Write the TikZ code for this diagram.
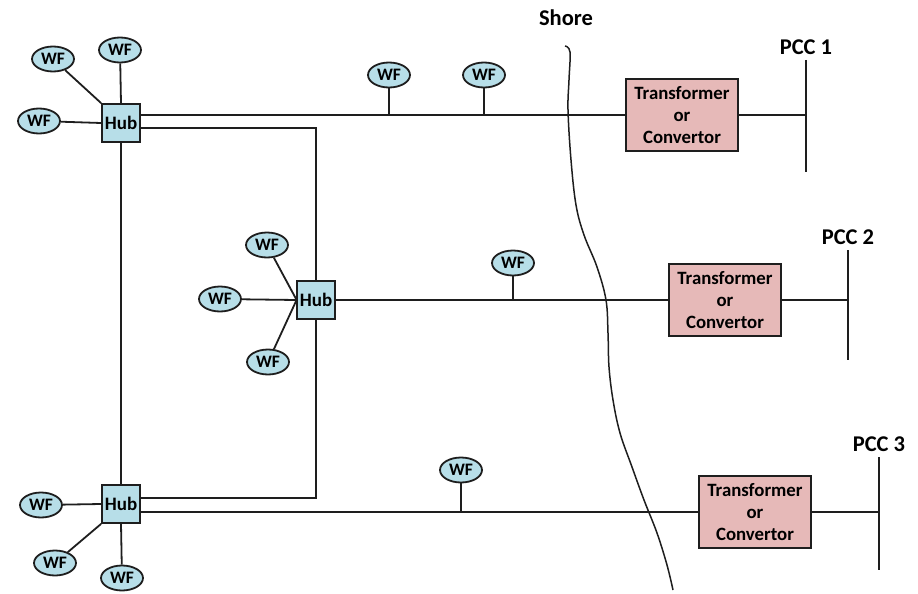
\documentclass[tikz,border=0pt]{standalone}
\usepackage{fontspec}
\setmainfont{Carlito}
\usetikzlibrary{shapes.geometric}
\definecolor{wfblue}{HTML}{B7DEE8}
\definecolor{trpink}{HTML}{E6B9B8}
\definecolor{lin}{HTML}{1E1E1E}
\begin{document}
\begin{tikzpicture}[x=1pt,y=-1pt, line width=1.8pt, draw=lin,
  wf/.style={ellipse, draw=lin, fill=wfblue, minimum width=42pt, minimum height=25pt, inner sep=0pt,
     font=\fontsize{17.5}{19}\selectfont\bfseries},
  hub/.style={rectangle, draw=lin, fill=wfblue, minimum width=38pt, minimum height=38pt, inner sep=0pt,
     font=\fontsize{19}{21}\selectfont\bfseries},
  trans/.style={rectangle, draw=lin, fill=trpink, minimum width=112pt, minimum height=72pt, inner sep=0pt,
     align=center, font=\fontsize{18.8}{22}\selectfont\bfseries},
  lbl/.style={inner sep=0pt, font=\fontsize{22.5}{24}\selectfont\bfseries}
]
\useasboundingbox (0,0) rectangle (918,594);
% hubs
\node[hub] (h1) at (121,123) {Hub};
\node[hub] (h2) at (316,300) {Hub};
\node[hub] (h3) at (121,504) {Hub};
% transformers
\node[trans] (t1) at (682,115) {Transformer\\or\\Convertor};
\node[trans] (t2) at (725,300) {Transformer\\or\\Convertor};
\node[trans] (t3) at (755,512) {Transformer\\or\\Convertor};
% WFs around hub 1
\node[wf] (w1a) at (53,59) {WF};
\node[wf] (w1b) at (120,50) {WF};
\node[wf] (w1c) at (39,121) {WF};
% WFs around hub 2
\node[wf] (w2a) at (267,245) {WF};
\node[wf] (w2b) at (220,299) {WF};
\node[wf] (w2c) at (268,362) {WF};
% WFs around hub 3
\node[wf] (w3a) at (41,505) {WF};
\node[wf] (w3b) at (55,563) {WF};
\node[wf] (w3c) at (122,578) {WF};
% WFs on lines
\node[wf] (l1a) at (389,75) {WF};
\node[wf] (l1b) at (484,75) {WF};
\node[wf] (l2a) at (513,263) {WF};
\node[wf] (l3a) at (461,470) {WF};
% buses
\coordinate (b1t) at (806,60);  \coordinate (b1b) at (806,172);
\coordinate (b2t) at (848,250); \coordinate (b2b) at (848,360);
\coordinate (b3t) at (879,457); \coordinate (b3b) at (879,570);
\node[lbl, anchor=south] (p1) at ([yshift=4pt]b1t) {PCC 1};
\node[lbl, anchor=south] (p2) at ([yshift=4pt]b2t) {PCC 2};
\node[lbl, anchor=south] (p3) at ([yshift=4pt]b3t) {PCC 3};
\draw (b1t) -- (b1b);
\draw (b2t) -- (b2b);
\draw (b3t) -- (b3b);
% shore
\node[lbl] (shore) at (566,18) {Shore};
\draw[line width=1.5pt] plot[smooth, tension=0.6] coordinates {(565,46) (570,52) (569,80) (568,110) (571,160) (576,205) (584,235) (597,267) (606,300) (608,333) (609,367) (613,400) (620,433) (632,467) (644,500) (657,533) (667,565) (673,590)};
% hub 1 connections
\draw (w1a) -- (h1.north west);
\draw (w1b) -- (h1.north);
\draw (w1c) -- (h1.west);
\draw ([yshift=8pt]h1.east) -- (t1.west);
\draw ([yshift=-5pt]h1.east) -| (h2.north);
\draw (h2.south) |- ([yshift=6pt]h3.east);
\draw (h1.south) -- (h3.north);
% hub 2 connections
\draw (w2a) -- ([yshift=1pt]h2.west);
\draw (w2b) -- (h2.west);
\draw (w2c) -- ([yshift=-1pt]h2.west);
\draw (h2.east) -- (t2.west);
% hub 3 connections
\draw (w3a) -- (h3.west);
\draw (w3b) -- (h3.south west);
\draw (w3c) -- (h3.south);
\draw ([yshift=-8pt]h3.east) -- (t3.west);
% stems
\draw (l1a.south) -- (l1a.south |- t1.west);
\draw (l1b.south) -- (l1b.south |- t1.west);
\draw (l2a.south) -- (l2a.south |- t2.west);
\draw (l3a.south) -- (l3a.south |- t3.west);
% transformer to bus
\draw (t1.east) -- (t1.east -| b1t);
\draw (t2.east) -- (t2.east -| b2t);
\draw (t3.east) -- (t3.east -| b3t);
\end{tikzpicture}
\end{document}
